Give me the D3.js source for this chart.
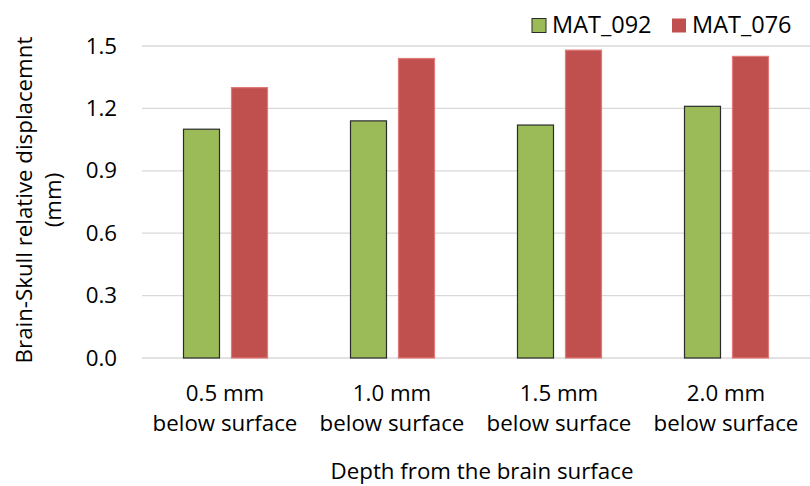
<!DOCTYPE html>
<html>
<head>
<meta charset="utf-8">
<script src="https://cdn.jsdelivr.net/npm/d3@7"></script>
<style>
html,body{margin:0;padding:0;background:#fff;}
svg{display:block;font-family:"Open Sans",sans-serif;}
</style>
</head>
<body>
<svg id="chart" width="810" height="486"></svg>
<script>
const categories = [["0.5 mm","below surface"],["1.0 mm","below surface"],["1.5 mm","below surface"],["2.0 mm","below surface"]];
const seriesNames = ["MAT_092","MAT_076"];
const mat092 = [1.10, 1.14, 1.12, 1.21];
const mat076 = [1.30, 1.44, 1.48, 1.45];
const yTicks = [0.0, 0.3, 0.6, 0.9, 1.2, 1.5];
const colors = ["#9BBB59","#C0504D"];
const strokes = ["#2b2b2b","#e07a78"];

const svg = d3.select("#chart");
const L = 142, R = 810, T = 46, B = 358;
const FS = 22.3;
const catKeys = categories.map((c,i)=>i);
const x0 = d3.scaleBand().domain(catKeys).range([L,R]).padding(0);
const step = x0.bandwidth();
const x1 = d3.scaleBand().domain(seriesNames).range([41, step-41]).paddingInner(11/48).paddingOuter(0);
const y = d3.scaleLinear().domain([0,1.5]).range([B,T]);

// gridlines
svg.append("g").selectAll("line").data(yTicks).join("line")
  .attr("x1",L).attr("x2",R)
  .attr("y1",d=>y(d)).attr("y2",d=>y(d))
  .attr("stroke","#d9d9d9").attr("stroke-width",1.3);

// y axis labels
const yAxis = d3.axisLeft(y).tickValues(yTicks).tickFormat(d3.format(".1f")).tickSize(0).tickPadding(0);
const ga = svg.append("g").attr("transform",`translate(117,0)`).call(yAxis);
ga.select(".domain").remove();
ga.selectAll("text").attr("font-size",FS).attr("font-family","Open Sans").attr("fill","#000");

// bars
const data = [mat092, mat076];
const groups = svg.append("g").selectAll("g").data(catKeys).join("g")
  .attr("transform",d=>`translate(${x0(d)},0)`);
groups.selectAll("rect").data(i=>seriesNames.map((s,k)=>({s,k,v:data[k][i]}))).join("rect")
  .attr("x",d=>x1(d.s)+0.5).attr("width",x1.bandwidth()-1)
  .attr("y",d=>y(d.v)).attr("height",d=>B-y(d.v))
  .attr("fill",d=>colors[d.k]).attr("stroke",d=>strokes[d.k]).attr("stroke-width",1.2);

// x category labels
const xl = svg.append("g").selectAll("text").data(catKeys).join("text")
  .attr("text-anchor","middle")
  .attr("font-size",FS).attr("fill","#000");
xl.append("tspan").attr("x",d=>x0(d)+step/2-0.5).attr("y",401).text(d=>categories[d][0]);
xl.append("tspan").attr("x",d=>x0(d)+step/2-0.5).attr("y",431).text(d=>categories[d][1]);

// x title
svg.append("text").attr("x",482).attr("y",479).attr("text-anchor","middle")
  .attr("font-size",FS).attr("fill","#000").text("Depth from the brain surface");

// y title
const yt = svg.append("text").attr("transform","translate(0,200) rotate(-90)")
  .attr("text-anchor","middle").attr("font-size",FS).attr("fill","#000");
yt.append("tspan").attr("x",0).attr("y",32).text("Brain-Skull relative displacemnt");
yt.append("tspan").attr("x",0).attr("y",61).text("(mm)");

// legend
const lg = svg.append("g");
const lx = [532, 672];
seriesNames.forEach((s,k)=>{
  lg.append("rect").attr("x",lx[k]).attr("y",18.5).attr("width",14).attr("height",14)
    .attr("fill",colors[k]).attr("stroke",k===0?"#2b2b2b":"none").attr("stroke-width",1);
  lg.append("text").attr("x",lx[k]+20).attr("y",32.5).attr("font-size",23.5).attr("fill","#000").text(s);
});
</script>
</body>
</html>
